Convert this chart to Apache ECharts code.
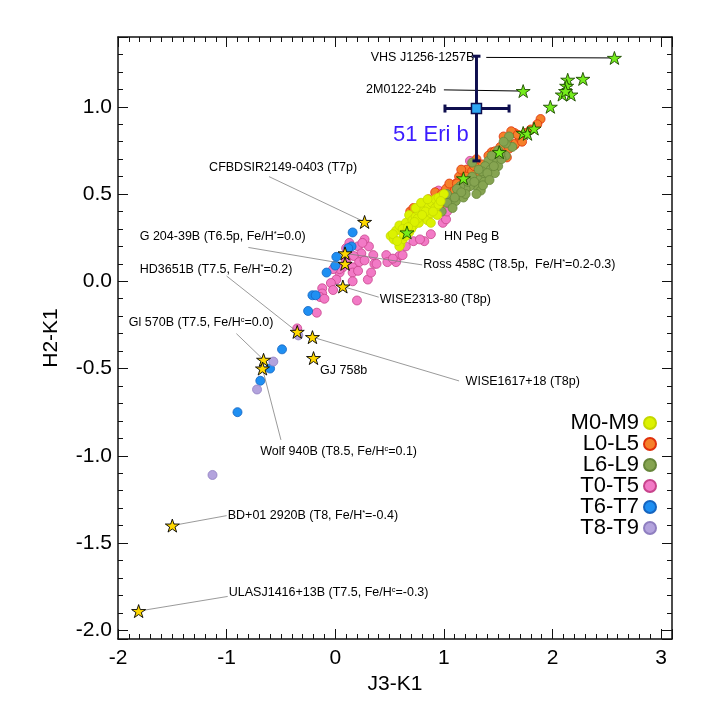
<!DOCTYPE html>
<html>
<head>
<meta charset="UTF-8">
<title></title>
<script src="https://cdn.jsdelivr.net/npm/echarts@6/dist/echarts.min.js" type="text/javascript" charset="utf-8"></script>
</head>
<body style="margin:0;background:#fff;">
<div id="chart" style="width:709px;height:709px;"></div>
<script type="text/javascript">
// spectral classes shown in the legend
var classNames = ['M0-M9', 'L0-L5', 'L6-L9', 'T0-T5', 'T6-T7', 'T8-T9'];

// [J3-K1, H2-K1]
var mDwarfs = [[0.51,0.26],[0.56,0.29],[0.54,0.24],[0.60,0.21],[0.62,0.24],[0.59,0.32],[0.65,0.335],[0.68,0.38],
  [0.71,0.35],[0.74,0.37],[0.77,0.40],[0.80,0.42],[0.82,0.37],[0.86,0.43],[0.89,0.45],[0.92,0.47],[0.95,0.48],
  [1.00,0.50],[0.72,0.32],[0.77,0.335],[0.85,0.35],[0.88,0.39],[0.68,0.28],[0.59,0.20],[0.53,0.27],[0.65,0.26],
  [0.74,0.42],[0.79,0.45],[0.85,0.47],[0.92,0.42],[0.95,0.44],[0.88,0.335],[0.94,0.38],[0.62,0.30],[0.70,0.30],
  [0.83,0.40],[0.76,0.36],[0.57,0.23],[0.63,0.27],[0.80,0.38],[0.90,0.40],[0.97,0.46],[0.73,0.34],[0.67,0.31]];
var earlyL = [[1.89,0.93],[1.86,0.90],[1.65,0.85],[1.59,0.80],[1.65,0.78],[1.44,0.74],[1.41,0.72],[1.21,0.64],
  [1.35,0.67],[1.26,0.63],[1.14,0.60],[1.11,0.56],[1.18,0.56],[1.02,0.53],[1.08,0.50],[0.69,0.40],[0.86,0.47],
  [0.92,0.51],[1.58,0.71],[1.47,0.745],[1.52,0.77],[1.66,0.79],[1.75,0.85],[1.80,0.87],[1.70,0.82],[0.98,0.50],
  [1.05,0.56],[1.00,0.47],[0.80,0.42],[0.75,0.38],[1.30,0.70],[1.16,0.64],[1.25,0.58],[1.37,0.62],[0.96,0.43],
  [0.90,0.45],[1.10,0.52],[1.55,0.83],[1.62,0.86],[1.20,0.60],[1.28,0.66],[1.33,0.60],[1.40,0.66],[1.46,0.70],
  [1.52,0.73],[1.60,0.76],[1.68,0.84],[1.72,0.80],[0.95,0.47],[1.04,0.48],[1.12,0.56],[1.22,0.54],[0.84,0.44],
  [0.78,0.36],[0.72,0.42]];
var lateL = [[1.50,0.75],[1.57,0.72],[1.63,0.77],[1.47,0.69],[1.41,0.69],[1.44,0.64],[1.38,0.60],[1.32,0.58],
  [1.29,0.55],[1.24,0.545],[1.34,0.52],[1.20,0.53],[1.12,0.49],[1.06,0.46],[1.15,0.545],[1.57,0.79],[1.60,0.83],
  [1.44,0.72],[1.38,0.66],[1.26,0.60],[1.50,0.66],[1.37,0.57],[1.22,0.57],[1.11,0.46],[1.03,0.45],[1.26,0.68],
  [1.03,0.50],[1.12,0.53],[1.43,0.64],[1.53,0.70],[1.47,0.62],[1.30,0.50],[1.18,0.48],[1.08,0.42],[0.98,0.40],
  [1.55,0.80],[1.35,0.63],[1.28,0.57],[1.36,0.55],[1.40,0.62],[1.46,0.66],[1.52,0.73],[1.20,0.50],[1.16,0.51],
  [1.10,0.48],[1.32,0.64],[1.42,0.58]];
var earlyT = [[0.21,0.20],[0.31,0.20],[0.24,0.16],[0.17,0.145],[0.35,0.15],[0.47,0.15],[0.59,0.145],[0.56,0.11],
  [0.48,0.11],[0.36,0.10],[0.22,0.11],[0.16,0.08],[0.07,0.08],[0.04,0.05],[0.16,0.05],[0.21,0.06],[0.30,0.01],
  [0.16,0.00],[0.01,0.01],[-0.04,-0.01],[-0.12,-0.04],[-0.02,-0.05],[-0.12,-0.07],[-0.14,-0.09],[-0.10,-0.10],
  [0.20,-0.11],[-0.17,-0.18],[0.38,0.10],[0.10,0.19],[0.04,0.07],[-0.02,0.07],[-0.35,-0.27],[0.13,0.22],
  [0.27,0.24],[0.62,0.15],[0.53,0.13],[0.25,0.22],[0.10,0.12],[0.27,0.12],[0.33,0.05],[0.65,0.20],[0.72,0.23],
  [0.82,0.23],[0.78,0.24],[0.88,0.27],[0.99,0.335],[1.02,0.355],[0.86,0.465],[0.95,0.52],[1.03,0.40],[1.20,0.61],
  [1.24,0.69],[1.28,0.62],[1.34,0.64]];
var midT = [[0.16,0.28],[0.15,0.20],[0.12,0.19],[0.01,0.14],[0.00,0.09],[-0.08,0.05],[-0.21,-0.08],[-0.18,-0.08],
  [-0.25,-0.17],[-0.49,-0.39],[-0.60,-0.50],[-0.69,-0.57],[-0.90,-0.75]];
var lateT = [[-1.13,-1.11],[-0.57,-0.46],[-0.72,-0.62],[-0.34,-0.31]];

// young / low-gravity objects (green stars) and benchmark T dwarfs (yellow stars)
var youngObjects = [[2.57,1.28],[1.73,1.09],[2.14,1.155],[2.28,1.16],[2.13,1.12],[2.09,1.07],[2.17,1.07],
  [2.12,1.09],[1.98,1.00],[1.73,0.85],[1.77,0.845],[1.83,0.875],[1.51,0.74],[1.18,0.59],[0.66,0.28]];
var benchmarkT = [[0.27,0.34],[0.09,0.16],[0.09,0.10],[0.07,-0.03],[-0.35,-0.29],[-0.21,-0.32],[-0.20,-0.44],
  [-0.66,-0.45],[-0.67,-0.50],[-1.50,-1.40],[-1.81,-1.89]];

// 51 Eri b with its error ranges
var eriX = 1.30, eriY = 0.99;
var eriXErr = [1.01, 1.60];
var eriYErr = [0.69, 1.29];

var classColors = ['#dcf200', '#f5802a', '#86a451', '#f27ac6', '#1f8ff2', '#b3a3dd'];
var classBorders = ['#c4d800', '#e0300c', '#67863a', '#c8448c', '#1565c0', '#8f7fc0'];
var classData = [mDwarfs, earlyL, lateL, earlyT, midT, lateT];
var drawOrder = [3, 4, 5, 1, 2, 0];

var starPath = 'path://M100,0L122.45,69.1L195.1,69.1L136.3,111.8L158.8,180.9L100,138.2L41.2,180.9L63.7,111.8L4.9,69.1L77.55,69.1Z';

// text labels and leader lines
var annotations = [
  {text: 'VHS J1256-1257B', at: [1.28, 1.285], align: 'right', from: [1.39, 1.283], to: youngObjects[0], dark: true},
  {text: '2M0122-24b', at: [0.93, 1.10], align: 'right', from: [1.00, 1.097], to: youngObjects[1], dark: true},
  {text: 'CFBDSIR2149-0403 (T7p)', at: [-0.48, 0.65], align: 'center', from: [-0.61, 0.60], to: benchmarkT[0]},
  {text: 'G 204-39B (T6.5p, Fe/H{s|*}=0.0)', at: [-1.80, 0.255], align: 'left', from: [-0.80, 0.194], to: benchmarkT[2]},
  {text: 'Ross 458C (T8.5p,  Fe/H{s|*}=0.2-0.3)', at: [0.81, 0.097], align: 'left', from: [0.80, 0.094], to: benchmarkT[1]},
  {text: 'WISE2313-80 (T8p)', at: [0.41, -0.103], align: 'left', from: [0.40, -0.091], to: benchmarkT[3]},
  {text: 'HD3651B (T7.5, Fe/H{s|*}=0.2)', at: [-1.80, 0.07], align: 'left', from: [-1.00, 0.03], to: benchmarkT[4]},
  {text: 'WISE1617+18 (T8p)', at: [1.20, -0.577], align: 'left', from: [1.14, -0.571], to: benchmarkT[5]},
  {text: 'GJ 758b', at: [-0.14, -0.514], align: 'left'},
  {text: 'Gl 570B (T7.5, Fe/H{s|c}=0.0)', at: [-1.90, -0.235], align: 'left', from: [-0.91, -0.30], to: benchmarkT[7]},
  {text: 'Wolf 940B (T8.5, Fe/H{s|c}=0.1)', at: [-0.69, -0.977], align: 'left', from: [-0.50, -0.909], to: benchmarkT[8]},
  {text: 'BD+01 2920B (T8, Fe/H{s|*}=-0.4)', at: [-0.99, -1.343], align: 'left', from: [-1.00, -1.343], to: benchmarkT[9]},
  {text: 'ULASJ1416+13B (T7.5, Fe/H{s|c}=-0.3)', at: [-0.98, -1.783], align: 'left', from: [-0.99, -1.806], to: benchmarkT[10]},
  {text: 'HN Peg B', at: [1.00, 0.257], align: 'left'},
  {text: '51 Eri b', at: [0.88, 0.84], align: 'center', big: true}
];

var chart = echarts.init(document.getElementById('chart'));
var font = 'Liberation Sans';
var frame = {show: true, onZero: false, lineStyle: {color: '#111', width: 1.5}};

function xAxisDef(pos, labels) {
  return {
    type: 'value', position: pos, min: -2, max: 3.1, interval: 1,
    axisLine: frame,
    axisTick: {inside: true, length: 10, lineStyle: {color: '#111'}},
    minorTick: {show: true, splitNumber: 10, length: 5, lineStyle: {color: '#111'}},
    splitLine: {show: false},
    axisLabel: {show: labels, showMaxLabel: false, margin: 9, fontSize: 21, fontFamily: font, color: '#000'},
    name: labels ? 'J3-K1' : '', nameLocation: 'middle', nameGap: 34,
    nameTextStyle: {fontSize: 21, fontFamily: font, color: '#000'}
  };
}
function yAxisDef(pos, labels) {
  return {
    type: 'value', position: pos, min: -2.05, max: 1.4, splitNumber: 7,
    axisLine: frame,
    axisTick: {inside: true, length: 10, lineStyle: {color: '#111'}},
    minorTick: {show: true, splitNumber: 5, length: 5, lineStyle: {color: '#111'}},
    splitLine: {show: false},
    axisLabel: {show: labels, showMinLabel: false, showMaxLabel: false, margin: 6, fontSize: 21, fontFamily: font, color: '#000',
      formatter: function (v) { return v.toFixed(1); }},
    name: labels ? 'H2-K1' : '', nameLocation: 'middle', nameGap: 56,
    nameTextStyle: {fontSize: 21, fontFamily: font, color: '#000'}
  };
}

var series = [];
drawOrder.forEach(function (k) {
  series.push({
    name: classNames[k], type: 'scatter', data: classData[k],
    symbol: 'circle', symbolSize: 9, z: 2,
    itemStyle: {color: classColors[k], borderColor: classBorders[k], borderWidth: 0.8, opacity: 1}
  });
});

series.push({
  type: 'custom', z: 3, silent: true,
  data: annotations.map(function (a) { return a.at; }),
  renderItem: function (params, api) {
    var a = annotations[params.dataIndex];
    var p = api.coord(a.at);
    var kids = [];
    if (a.from) {
      var f = api.coord(a.from), t = api.coord(a.to);
      kids.push({type: 'line', shape: {x1: f[0], y1: f[1], x2: t[0], y2: t[1]},
        style: {stroke: a.dark ? '#000' : '#808080', lineWidth: a.dark ? 1 : 0.8}});
    }
    kids.push({type: 'text', x: p[0], y: p[1], style: {
      text: a.text, fill: a.big ? '#3b1cff' : '#000',
      fontSize: a.big ? 22 : 12.5, fontFamily: font,
      align: a.align, verticalAlign: 'middle',
      rich: {s: {fontSize: 7.5, verticalAlign: 'top', lineHeight: 9, fontFamily: font}}
    }});
    return {type: 'group', children: kids};
  }
});

series.push({
  type: 'custom', z: 4, silent: true,
  data: [[eriX, eriY, eriXErr[0], eriXErr[1], eriYErr[0], eriYErr[1]]],
  renderItem: function (params, api) {
    var l = api.coord([api.value(2), api.value(1)]);
    var r = api.coord([api.value(3), api.value(1)]);
    var b = api.coord([api.value(0), api.value(4)]);
    var t = api.coord([api.value(0), api.value(5)]);
    var cap = 4;
    var st = {stroke: '#0e0e4e', lineWidth: 3};
    return {type: 'group', children: [
      {type: 'line', shape: {x1: l[0], y1: l[1], x2: r[0], y2: r[1]}, style: st},
      {type: 'line', shape: {x1: b[0], y1: b[1], x2: t[0], y2: t[1]}, style: st},
      {type: 'line', shape: {x1: l[0], y1: l[1] - cap, x2: l[0], y2: l[1] + cap}, style: st},
      {type: 'line', shape: {x1: r[0], y1: r[1] - cap, x2: r[0], y2: r[1] + cap}, style: st},
      {type: 'line', shape: {x1: t[0] - cap, y1: t[1], x2: t[0] + cap, y2: t[1]}, style: st},
      {type: 'line', shape: {x1: b[0] - cap, y1: b[1], x2: b[0] + cap, y2: b[1]}, style: st}
    ]};
  }
});

series.push({
  type: 'scatter', z: 5, data: [[eriX, eriY]], symbol: 'rect', symbolSize: 10,
  itemStyle: {color: '#2ea6f2', borderColor: '#0e0e4e', borderWidth: 1.5, opacity: 1}
});
series.push({
  type: 'scatter', z: 6, data: youngObjects, symbol: starPath, symbolSize: [14, 13],
  itemStyle: {color: '#74ec1c', borderColor: '#1d4a00', borderWidth: 0.9, opacity: 1}
});
series.push({
  type: 'scatter', z: 6, data: benchmarkT, symbol: starPath, symbolSize: [14, 13],
  itemStyle: {color: '#ffd800', borderColor: '#000', borderWidth: 0.9, opacity: 1}
});

var option = {
  animation: false,
  backgroundColor: '#fff',
  grid: {left: 118, right: 37, top: 37, bottom: 70},
  xAxis: [xAxisDef('bottom', true), xAxisDef('top', false)],
  yAxis: [yAxisDef('left', true), yAxisDef('right', false)],
  legend: {
    data: classNames, orient: 'vertical', align: 'right', right: 52, top: 412,
    padding: 0, itemGap: -1, itemWidth: 12, itemHeight: 12, icon: 'circle', selectedMode: false,
    textStyle: {fontSize: 22, fontFamily: font, color: '#000'}
  },
  series: series
};
chart.setOption(option);
</script>
</body>
</html>
